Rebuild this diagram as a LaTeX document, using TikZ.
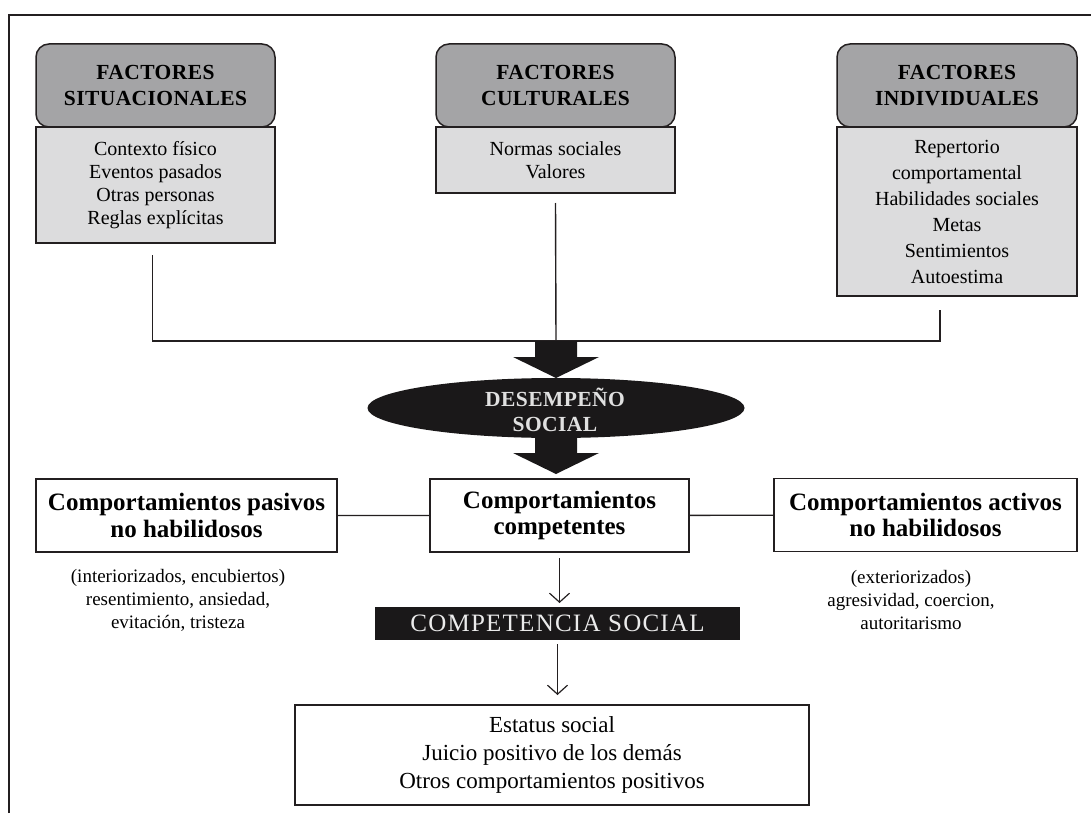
\documentclass[tikz,border=0pt]{standalone}
\usepackage{fontspec}
\setmainfont{Liberation Serif}
\usetikzlibrary{positioning,shapes.geometric,arrows.meta,calc}
\definecolor{ink}{HTML}{231F20}
\definecolor{headgray}{HTML}{A4A4A6}
\definecolor{bodygray}{HTML}{DCDCDD}
\definecolor{darkfill}{HTML}{1A1819}
\newcommand{\fs}[2]{\fontsize{#1}{#2}\selectfont}
% thick block arrow pointing down, from #1 to the level of #2
\newcommand{\fatdown}[2]{%
  \coordinate (ft) at (#1 |- #2);
  \fill[darkfill] ($(#1)+(-21,0)$) -- ($(ft)+(-21,-21)$) -- ($(ft)+(-43,-21)$) -- (ft)
    -- ($(ft)+(43,-21)$) -- ($(ft)+(21,-21)$) -- ($(#1)+(21,0)$) -- cycle;}

\tikzset{
  every node/.style={outer sep=0pt},
  facthead/.style={draw=ink, fill=headgray, line width=1.5pt, rounded corners=13pt,
    minimum width=239pt, minimum height=83pt, align=center,
    font=\fs{21.5}{26}\bfseries\addfontfeature{LetterSpace=2}},
  factbody/.style={draw=ink, fill=bodygray, line width=1.5pt, minimum width=239pt,
    align=center, font=\fs{20}{23}},
  kindbox/.style={draw=ink, line width=1.4pt, minimum height=73pt, align=center,
    font=\fs{25}{26.5}\bfseries},
  notetext/.style={align=center, font=\fs{19}{23}},
  joinline/.style={draw=ink, line width=1.4pt},
  leadarrow/.style={draw=ink, line width=1.2pt, -{Straight Barb[length=9pt,width=20pt]}},
}

\begin{document}
\begin{tikzpicture}[x=1pt,y=-1pt]
\useasboundingbox (0,0) rectangle (1091,813);
\draw[ink, line width=1.6pt] (9,813) -- (9,15) -- (1091,15);

% factores
\node[facthead] (sith) at (155.5,85.5) {FACTORES\\SITUACIONALES};
\node[factbody, minimum height=116pt, below=0pt of sith] (sitb) {Contexto físico\\Eventos pasados\\Otras personas\\Reglas explícitas};
\node[facthead] (culh) at (555.5,85.5) {FACTORES\\CULTURALES};
\node[factbody, minimum height=66pt, below=0pt of culh] (culb) {Normas sociales\\Valores};
\node[facthead, minimum width=240pt] (indh) at (957,85.5) {FACTORES\\INDIVIDUALES};
\node[factbody, minimum width=240pt, minimum height=169pt, font=\fs{20}{26}, below=0pt of indh] (indb) {Repertorio\\comportamental\\Habilidades sociales\\Metas\\Sentimientos\\Autoestima};

\coordinate (hub) at (556,341);
\draw[joinline] ([shift={(-3pt,-12pt)}]sitb.south) |- (hub) -| ([shift={(-17pt,-14pt)}]indb.south);
\draw[joinline] ([yshift=-10pt]culb.south) -- (hub);

% desempeno
\node[ellipse, fill=darkfill, minimum width=377pt, minimum height=60pt, inner sep=0pt] (des) at (556,408) {};
\node[font=\fs{21.5}{25}\bfseries\addfontfeature{LetterSpace=2}, text=white!88!black, align=center] (destext) at (555,410) {DESEMPEÑO\\SOCIAL};

\node[kindbox, minimum width=301pt] (pas) at (186.5,515.5) {Comportamientos pasivos\\no habilidosos};
\node[kindbox, minimum width=259pt] (comp) at (559.5,515.5) {Comportamientos\\competentes};
\node[kindbox, minimum width=303pt] (act) at (925.5,515) {Comportamientos activos\\no habilidosos};
\draw[joinline] (pas) -- (comp) (comp) -- (act);

\coordinate (compin) at ([yshift=5pt]comp.north);
\fatdown{hub}{des.north}
\fatdown{des.south}{compin}

\node[notetext] (pasnote) at (178,600) {(interiorizados, encubiertos)\\resentimiento, ansiedad,\\evitación, tristeza};
\node[notetext] (actnote) at (911,600) {(exteriorizados)\\agresividad, coercion,\\autoritarismo};

% competencia
\node[fill=darkfill, minimum width=365pt, minimum height=33pt, font=\fs{25}{26}\addfontfeature{LetterSpace=5}, text=white!92!black] (csoc) at (557.5,623.5) {COMPETENCIA SOCIAL};
\node[draw=ink, line width=1.4pt, minimum width=514pt, minimum height=100pt, align=center, font=\fs{23}{28}] (outc) at (552,755) {Estatus social\\Juicio positivo de los demás\\Otros comportamientos positivos};

\draw[leadarrow, shorten <=6pt, shorten >=4pt] (comp.south) -- (comp.south |- csoc.north);
\draw[leadarrow, shorten <=4pt, shorten >=10pt] (csoc.south) -- (csoc.south |- outc.north);

\end{tikzpicture}
\end{document}
